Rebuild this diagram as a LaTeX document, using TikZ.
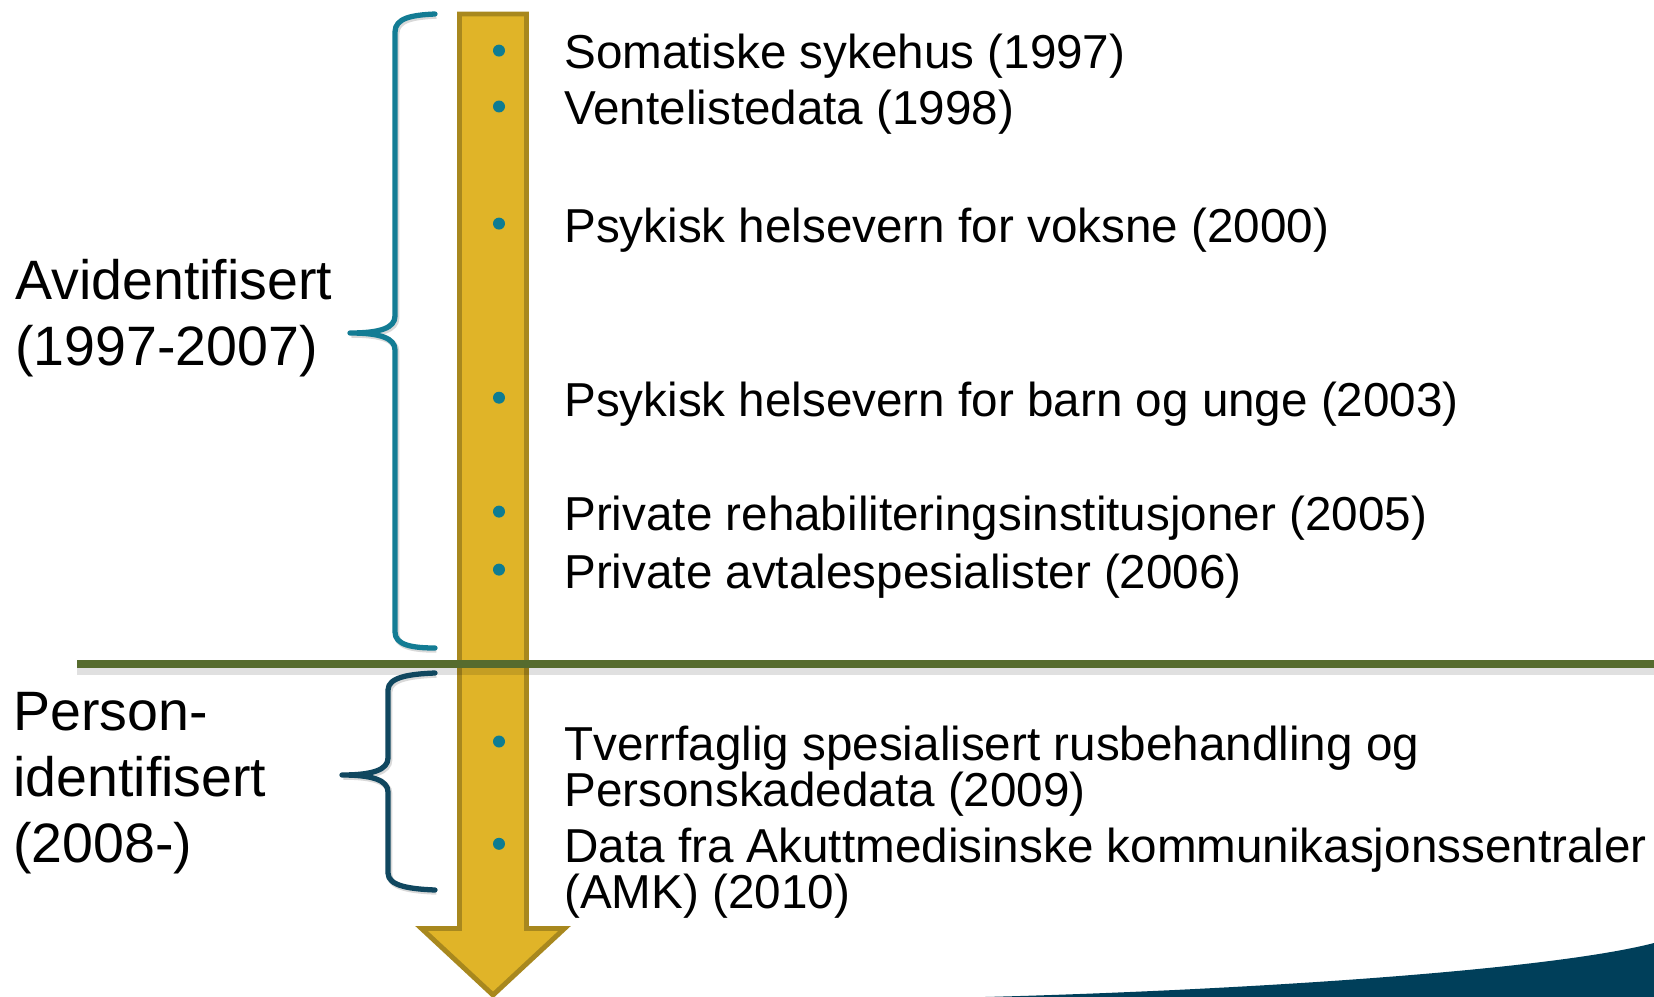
\documentclass[tikz,border=0pt]{standalone}
\usepackage{fontspec}
\setmainfont{Liberation Sans}
\usetikzlibrary{positioning,calc}
\definecolor{arrowfill}{HTML}{E0B428}
\definecolor{arrowedge}{HTML}{A8881E}
\definecolor{dotteal}{HTML}{0E7C92}
\definecolor{braceteal}{HTML}{137C94}
\definecolor{bracenavy}{HTML}{10475F}
\definecolor{lineolive}{HTML}{566B2E}
\definecolor{swoosh}{HTML}{003F5A}
\tikzset{
	dot/.style={circle,fill=dotteal,inner sep=0pt,minimum size=0.24cm},
	brace/.style={line width=3pt,line cap=round,line join=round,
		preaction={draw,black,opacity=.15,line width=3.4pt,transform canvas={xshift=0.8pt,yshift=-1pt}}},
	x=0.02cm,y=-0.02cm}

\begin{document}
\begin{tikzpicture}[line join=miter]

		\tikzstyle{every node}=[inner sep=0pt]
		\tikzstyle{item}=[anchor=base west,align=left,font=\fontsize{27.1pt}{26pt}\selectfont]
		\tikzstyle{period}=[anchor=base west,align=left,font=\fontsize{31.6pt}{37.5pt}\selectfont]

		\useasboundingbox (0,0) rectangle (1654,997);

		% swoosh in the corner
		\fill[swoosh] (985,997) .. controls (1250,990) and (1550,970) .. (1654,943) -- (1654,997) -- cycle;

		% timeline arrow
		\draw[arrowedge,fill=arrowfill,line width=2.8pt] (459.5,14) -- (526.5,14) -- (526.5,928.5)
			-- (564.5,928.5) -- (493,995) -- (421.5,928.5) -- (459.5,928.5) -- cycle;

		% separator
		\draw[black,opacity=.12,line width=6pt] (77,670) -- (1654,670);
		\draw[lineolive,line width=4pt] (77,664) -- (1654,664);

		% braces
		\draw[brace,braceteal] (435,14) .. controls (412,15) and (395,18) .. (395,32) -- (395,316)
			.. controls (395,328) and (380,333) .. (350,333)
			.. controls (380,333) and (395,338) .. (395,350) -- (395,632)
			.. controls (395,645) and (412,648) .. (435,648);
		\draw[brace,bracenavy] (435,673) .. controls (410,674) and (388,677) .. (388,690) -- (388,758)
			.. controls (388,770) and (372,775) .. (342,775)
			.. controls (372,775) and (388,780) .. (388,792) -- (388,873)
			.. controls (388,886) and (410,889) .. (435,890);

		% bullets
		\foreach \n/\y in {1/50.6,2/106.5,3/223.6,4/397.7,5/511.6,6/569.6,7/741.5,8/843.8}
			\node[dot] (b\n) at (499,\y) {};

		% base anchor sits on the last line
		\node[item] (s1) at (564,69) {Somatiske sykehus (1997)};
		\node[item] (s2) at (564,125) {Ventelistedata (1998)};
		\node[item] (s3) at (564,242) {Psykisk helsevern for voksne (2000)};
		\node[item] (s4) at (564,416) {Psykisk helsevern for barn og unge (2003)};
		\node[item] (s5) at (564,530) {Private rehabiliteringsinstitusjoner (2005)};
		\node[item] (s6) at (564,588) {Private avtalespesialister (2006)};
		\node[item] (s7) at (564,806) {Tverrfaglig spesialisert rusbehandling og\\Personskadedata (2009)};
		\node[item] (s8) at (564,908) {Data fra Akuttmedisinske kommunikasjonssentraler\\(AMK) (2010)};

		\node[period] (avid) at (15,365) {Avidentifisert\\(1997-2007)};
		\node[period] (pers) at (13,862) {Person-\\identifisert\\(2008-)};

	\end{tikzpicture}
\end{document}
